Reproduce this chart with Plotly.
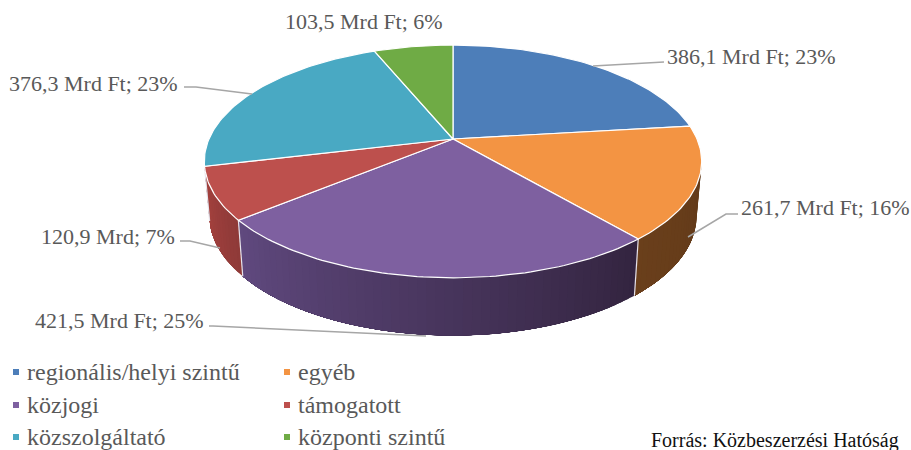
import math
import plotly.graph_objects as go

categories = ["regionális/helyi szintű", "egyéb", "közjogi", "támogatott", "közszolgáltató", "központi szintű"]
values = [386.1, 261.7, 421.5, 120.9, 376.3, 103.5]
percents = [23, 16, 25, 7, 23, 6]
units = ["Mrd Ft", "Mrd Ft", "Mrd Ft", "Mrd", "Mrd Ft", "Mrd Ft"]
source_text = "Forrás: Közbeszerzési Hatóság"

top_colors = ["#4d7eb9", "#f39443", "#7e60a0", "#bd504d", "#49a9c3", "#6fab45"]
side_left = ["#2d4a6e", "#6a3f1b", "#60497f", "#a8423f", "#2c6575", "#41652a"]
side_right = ["#2d4a6e", "#623a19", "#33243f", "#8e3a38", "#2c6575", "#41652a"]

FONT = "Liberation Serif"
GREY = "#595959"
CX, CY, K, A, B = 453, 139, 0.193, 244, 112
A2, B2, CY2 = 239, 115, 193


def top(t):
    u, v = math.sin(t), math.cos(t)
    w = 1 + K * v
    return CX + A * u / w, CY - B * v / w


def bottom(t):
    u, v = math.sin(t), math.cos(t)
    w = 1 + K * v
    return CX + A2 * u / w, CY2 - B2 * v / w


def mix(c1, c2, f):
    a = [int(c1[i:i + 2], 16) for i in (1, 3, 5)]
    b = [int(c2[i:i + 2], 16) for i in (1, 3, 5)]
    return "#%02x%02x%02x" % tuple(round(p + (q - p) * f) for p, q in zip(a, b))


total = sum(values)
edges = [0]
for val in values:
    edges.append(edges[-1] + val / total * 2 * math.pi)

fig = go.Figure()


def poly(xs, ys, fill, line=None, width=1):
    fig.add_trace(go.Scatter(x=xs, y=ys, mode="lines", fill="toself", fillcolor=fill,
                             line=dict(color=line or fill, width=width), hoverinfo="skip", showlegend=False))


# side wall (only the part that faces the viewer)
vis0, vis1 = math.acos(-K), 2 * math.pi - math.acos(-K)
for i in range(len(values)):
    a0, a1 = max(edges[i], vis0), min(edges[i + 1], vis1)
    if a1 <= a0:
        continue
    n = max(1, int((a1 - a0) / 0.03))
    step = (a1 - a0) / n
    for j in range(n):
        t0 = a0 + step * j
        # each strip reaches to the end of the slice; the next strip paints over it, so no seams show
        ts = [t0 + (a1 - t0) * q / 12 for q in range(13)]
        upper = [top(t) for t in ts]
        lower = [bottom(t) for t in reversed(ts)]
        pts = upper + lower + upper[:1]
        f = 1 - (j + 0.5) / n
        poly([p[0] for p in pts], [p[1] for p in pts], mix(side_left[i], side_right[i], f), width=0)

# pale seams on the wall
for t in edges:
    if vis0 < t < vis1:
        x0, y0 = top(t); x1, y1 = bottom(t)
        fig.add_trace(go.Scatter(x=[x0, x1], y=[y0, y1], mode="lines", line=dict(color="#e8e4ec", width=1.2),
                                 hoverinfo="skip", showlegend=False))

# top face
for i in range(len(values)):
    n = max(4, int((edges[i + 1] - edges[i]) / 0.02))
    pts = [top(edges[i] + (edges[i + 1] - edges[i]) * j / n) for j in range(n + 1)]
    xs = [CX] + [p[0] for p in pts] + [CX]
    ys = [CY] + [p[1] for p in pts] + [CY]
    poly(xs, ys, top_colors[i], line="#ffffff", width=1.2)

# leader lines
leaders = [
    ([593, 653, 664], [66, 62, 62]),
    ([688, 726, 738], [237, 214, 214]),
    ([209, 213, 426], [326, 326, 336]),
    ([180, 190, 220], [241, 241, 248]),
    ([184, 196, 252], [87, 87, 94]),
]
for xs, ys in leaders:
    fig.add_trace(go.Scatter(x=xs, y=ys, mode="lines", line=dict(color="#a6a6a6", width=1.5),
                             hoverinfo="skip", showlegend=False))

# data labels
label_pos = [(665, 56, "left"), (739, 207, "left"), (206, 320, "right"),
             (177, 236, "right"), (180, 83, "right"), (445, 21, "right")]
annotations = []
for val, pct, unit, (x, y, anchor) in zip(values, percents, units, label_pos):
    txt = f"{val:.1f}".replace(".", ",") + f" {unit}; {pct}%"
    annotations.append(dict(x=x, y=y, xref="x", yref="y", text=txt, showarrow=False, xanchor=anchor,
                            yanchor="middle", font=dict(family=FONT, size=22, color=GREY)))

# legend
legend_pos = [(16, 372), (287, 372), (16, 405), (287, 405), (16, 437), (287, 437)]
fig.add_trace(go.Scatter(x=[p[0] for p in legend_pos], y=[p[1] for p in legend_pos], mode="markers",
                         marker=dict(symbol="square", size=6, color=top_colors), hoverinfo="skip", showlegend=False))
for cat, (x, y) in zip(categories, legend_pos):
    annotations.append(dict(x=x + 9, y=y, xref="x", yref="y", text=cat, showarrow=False, xanchor="left",
                            yanchor="middle", font=dict(family=FONT, size=24, color=GREY)))
annotations.append(dict(x=901, y=440, xref="x", yref="y", text=source_text, showarrow=False, xanchor="right",
                        yanchor="middle", font=dict(family=FONT, size=20, color="#111111")))

fig.update_layout(
    width=911, height=450, margin=dict(l=0, r=0, t=0, b=0), paper_bgcolor="white", plot_bgcolor="white",
    xaxis=dict(range=[0, 911], visible=False, fixedrange=True),
    yaxis=dict(range=[450, 0], visible=False, fixedrange=True),
    annotations=annotations, showlegend=False,
)
fig.write_html("out.html", config={"displayModeBar": False},
               post_script="document.body.style.margin='0';")
